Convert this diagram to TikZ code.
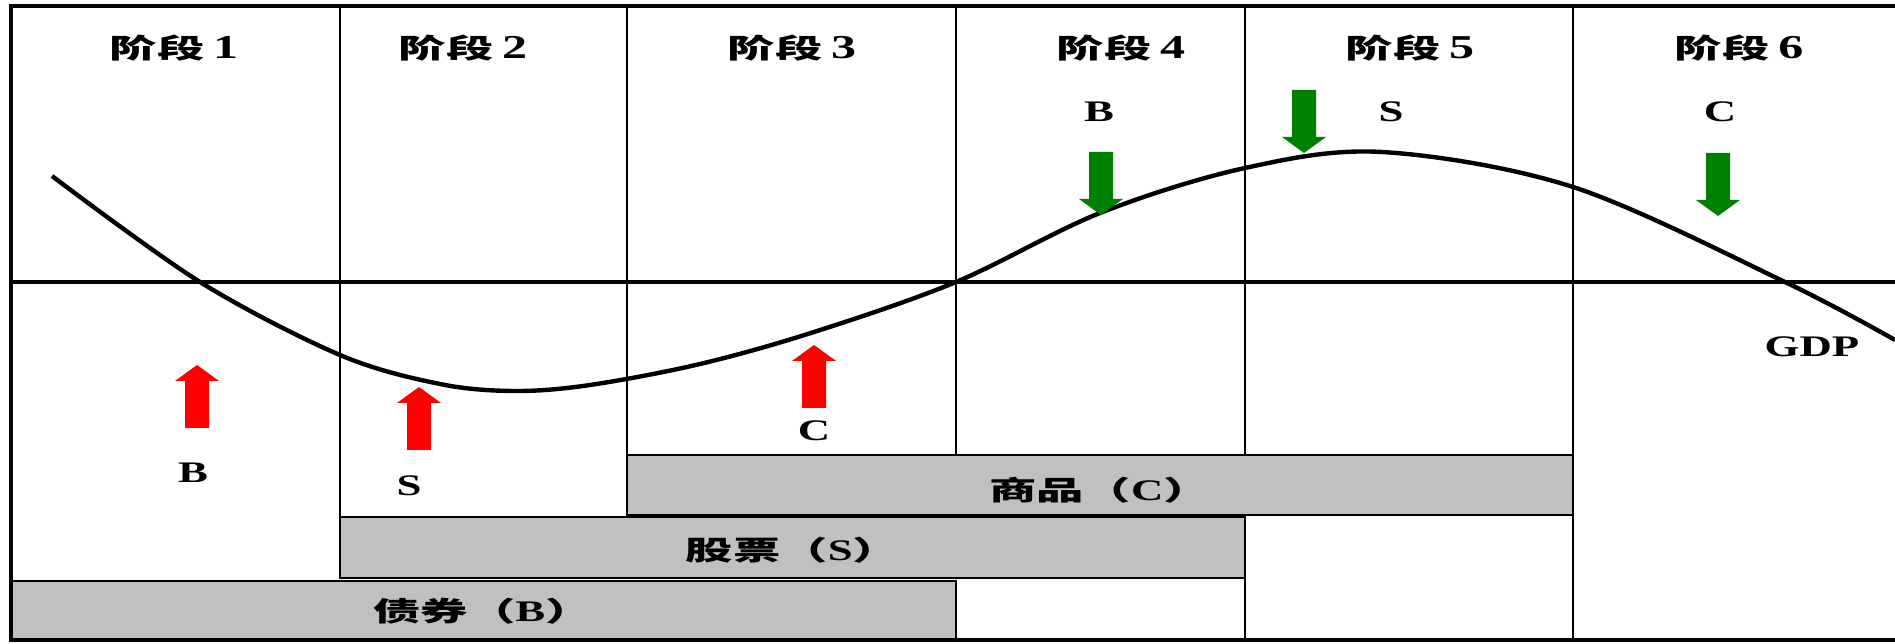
\documentclass[tikz,border=0pt]{standalone}
\usepackage{fontspec}
\newfontfamily\cjk[FakeStretch=1.75]{Noto Sans CJK SC}
\newfontfamily\lat[FakeStretch=1.5]{Liberation Serif}
\definecolor{barGrey}{RGB}{192,192,192}
\definecolor{arrGreen}{RGB}{0,128,0}
\definecolor{arrRed}{RGB}{255,0,0}
\newcommand\LB[1]{{\lat\bfseries\fontsize{17}{20}\selectfont #1}}
\newcommand\HD[1]{{\lat\bfseries\fontsize{19}{20}\selectfont #1}}
\newcommand\arrUp[3]{\fill[#3] (#1-12,#2+63) -- (#1-12,#2+16) -- (#1-22,#2+16) -- (#1,#2) -- (#1+22,#2+16) -- (#1+12,#2+16) -- (#1+12,#2+63) -- cycle;}
\newcommand\arrDown[3]{\fill[#3] (#1-12,#2-63) -- (#1-12,#2-16) -- (#1-22,#2-16) -- (#1,#2) -- (#1+22,#2-16) -- (#1+12,#2-16) -- (#1+12,#2-63) -- cycle;}
\tikzset{
  border/.style={line width=2.4pt, line join=miter},
  midline/.style={line width=1.8pt},
  colline/.style={line width=1.1pt},
  bar/.style={fill=barGrey, draw=black, line width=1.1pt},
  gdp/.style={line width=2.5pt, line join=round},
  hdr/.style={font=\cjk\bfseries\fontsize{15.4}{18}\selectfont, inner sep=0pt},
  lbl/.style={font=\lat\bfseries\fontsize{17}{20}\selectfont, inner sep=0pt},
  bartext/.style={font=\cjk\bfseries\fontsize{15.4}{18}\selectfont, inner sep=0pt},
}
\begin{document}
\begin{tikzpicture}[x=0.02cm, y=-0.02cm]
\useasboundingbox (0,0) rectangle (1895,644);
% bars
\draw[bar] (627,455) rectangle (1573,515);
\draw[bar] (340,517) rectangle (1245,578);
\draw[bar] (11,581) rectangle (956,640);
% grid
\draw[colline] (340,6) -- (340,517);
\draw[colline] (627,6) -- (627,455);
\draw[colline] (956,6) -- (956,455);
\draw[colline] (1245,6) -- (1245,455) (1245,515) -- (1245,640);
\draw[colline] (1573,6) -- (1573,640);
\draw[midline] (11,282) -- (1895,282);
\draw[border] (1895,6) -- (11,6) -- (11,640) -- (1895,640);
% headers
\node[hdr] (h1) at (174,48) {阶段\hspace{5pt}\HD{1}};
\node[hdr] (h2) at (463,48) {阶段\hspace{5pt}\HD{2}};
\node[hdr] (h3) at (792,48) {阶段\hspace{5pt}\HD{3}};
\node[hdr] (h4) at (1121,48) {阶段\hspace{5pt}\HD{4}};
\node[hdr] (h5) at (1410,48) {阶段\hspace{5pt}\HD{5}};
\node[hdr] (h6) at (1739,48) {阶段\hspace{5pt}\HD{6}};
% bar texts
\node[bartext] (tC) at (1100,490) {商品（\LB{C}）};
\node[bartext] (tS) at (793,550) {股票（\LB{S}）};
\node[bartext] (tB) at (483,611) {债券（\LB{B}）};
% curve
\draw[gdp] plot[smooth, tension=0.55] coordinates {(52,176) (200,282) (340,355) (440,384) (515,391) (590,385) (700,364) (814,332) (956,282) (1100,213) (1245,168) (1382,152) (1573,187) (1785,282) (1895,340)};
% arrows
\arrUp{197}{365}{arrRed}
\arrUp{419}{387}{arrRed}
\arrUp{814}{345}{arrRed}
\arrDown{1101}{215}{arrGreen}
\arrDown{1304}{153}{arrGreen}
\arrDown{1718}{216}{arrGreen}
% labels
\node[lbl] (lB1) at (193,473) {B};
\node[lbl] (lS1) at (409,486) {S};
\node[lbl] (lC1) at (814,431) {C};
\node[lbl] (lB2) at (1099,112) {B};
\node[lbl] (lS2) at (1391,112) {S};
\node[lbl] (lC2) at (1720,112) {C};
\node[lbl] (gdp) at (1812,347) {GDP};
\end{tikzpicture}
\end{document}
